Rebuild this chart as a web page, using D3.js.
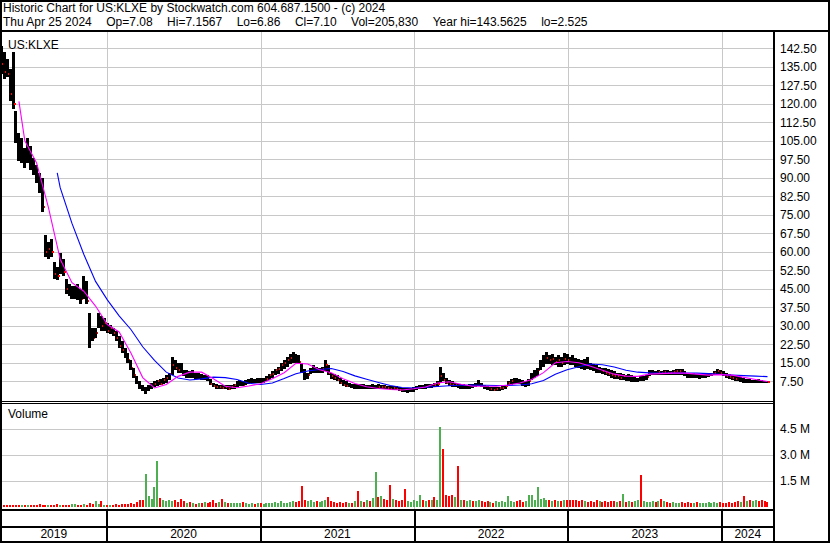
<!DOCTYPE html>
<html>
<head>
<meta charset="utf-8">
<script src="https://cdn.jsdelivr.net/npm/d3@7"></script>
<style>
  body { margin: 0; background: #fff; }
  svg { display: block; font-family: "Liberation Sans", Arial, sans-serif; font-size: 12px; }
</style>
</head>
<body>
<div id="chart"></div>
<script>
"use strict";

// ---- data ----
const titleText = "Historic Chart for US:KLXE by Stockwatch.com 604.687.1500 - (c) 2024";
const quoteParts = ["Thu Apr 25 2024", "Op=7.08", "Hi=7.1567", "Lo=6.86", "Cl=7.10",
                    "Vol=205,830", "Year hi=143.5625", "lo=2.525"];
const symbol = "US:KLXE";
const firstWeek = "2019-04-26";

// weekly high / low / close, 261 weeks
const weekHigh = [
    143.5, 141, 138, 134, 141, 117, 108, 106, 102, 106,
    103, 98, 95, 92, 90, 67, 64, 65, 56, 54,
    59.5, 57, 49, 47, 46, 46, 47, 45, 50, 48,
    35, 29, 29, 35, 34, 33, 31, 30.5, 29, 28,
    26, 24, 21, 19, 16, 13, 9.5, 7.5, 6, 5,
    6, 7, 7.5, 8, 8.5, 9, 10, 11, 17.4, 16,
    15, 15, 12, 12, 11.5, 12, 11, 11, 10.5, 10,
    10, 8.5, 7, 6.5, 6, 6, 6, 5.8, 6, 6.5,
    7.5, 8, 7.5, 8, 8.5, 9, 8.5, 9, 9, 9,
    9.5, 10.5, 11.5, 12.5, 13.5, 15, 16, 17.5, 18.5, 19.5,
    18.5, 18, 15, 12.5, 11, 13, 14, 13.5, 13, 13.5,
    16, 14, 11, 10.5, 10, 9, 8, 7.5, 7, 6.5,
    6.5, 6.5, 6.5, 6.5, 6, 6, 6.5, 6, 6.5, 6,
    6, 5.5, 5.5, 5.5, 5.5, 5, 4.8, 4.8, 4.6, 4.8,
    5, 5.5, 6, 6.2, 6.5, 6.5, 6.5, 6.8, 7.5, 13.4,
    11, 9, 8, 7.5, 7, 6.5, 6.5, 6.5, 6, 6.5,
    6.5, 7, 8.2, 7, 6, 5.5, 5.2, 5, 5, 5.2,
    5.5, 6, 7.5, 8.5, 9, 8.8, 8.5, 8, 7.5, 8.5,
    11, 12, 13, 16, 18, 19.2, 18, 18.5, 17.5, 18,
    17.5, 19, 18.5, 17.5, 18, 17, 16.5, 16, 16.5, 17.5,
    15, 14.5, 14, 13.5, 13, 13, 12.5, 12, 11.5, 11,
    11, 10.5, 10, 10.5, 10, 9.5, 9, 9.5, 9.5, 10,
    12, 12, 11.5, 12, 11.8, 12, 12, 11.8, 12, 12.3,
    12.5, 12.3, 11.5, 11, 10.5, 11, 10.5, 10.5, 10.5, 10.8,
    11, 11, 11.8, 12.3, 12, 11.5, 10.8, 10.5, 10, 9.5,
    9.5, 9.2, 9, 8.5, 8.3, 8.2, 8.2, 8.3, 8.2, 7.8, 7.6
];
const weekLow = [
    132, 130, 131, 121, 118, 104, 97, 96, 94, 96,
    93, 91, 88, 84, 76, 58, 57, 58, 49, 48.5,
    51, 50, 43, 42, 41, 41, 40.5, 39, 41, 39,
    21, 24, 25, 29, 28, 28, 27, 26.5, 26, 24,
    21, 19, 17, 15, 12, 9, 6.5, 4.5, 3.5, 2.525,
    3.5, 4.5, 5, 5.5, 6, 6.5, 7, 8, 10, 12,
    11, 11, 9.5, 9, 9, 9, 8.5, 8.5, 8, 8,
    7.5, 6, 5, 4.5, 4.5, 4.2, 4.2, 4, 4.2, 4.5,
    5, 5.5, 5.5, 5.8, 6.5, 7, 7, 7, 7, 7,
    7.5, 8, 9, 10, 10.5, 11.5, 12.5, 13.5, 14.5, 15,
    15, 14.5, 11, 8, 8.5, 10.5, 11, 11, 11, 11,
    11.5, 10, 8.5, 8, 7.5, 6.5, 5.5, 5, 5, 4.8,
    4.5, 4.5, 4.5, 4.5, 4.5, 4.5, 4.5, 4.5, 4.5, 4.2,
    4.2, 4.2, 4, 4, 3.8, 3.5, 3.2, 3, 2.9, 3,
    3.2, 3.8, 4.2, 4.5, 4.5, 4.8, 4.8, 5, 5.2, 7,
    7.5, 6.5, 5.5, 5, 5, 4.8, 4.5, 4.5, 4.5, 4.5,
    4.8, 5, 5.5, 5, 4.2, 3.8, 3.6, 3.5, 3.5, 3.6,
    3.8, 4.2, 5.5, 6.2, 6.5, 6.5, 6.5, 5.5, 5, 5.5,
    8, 9, 9.5, 12, 13.5, 14.5, 14.5, 14, 14, 13.5,
    13.5, 14, 14.5, 14, 14, 13.5, 13, 12.5, 12, 12.5,
    12, 11.5, 11, 11, 10.5, 10, 9.5, 9, 8.5, 8.5,
    8, 8, 7.5, 7.5, 7.3, 7.3, 7.3, 7.5, 7.8, 8,
    9.5, 10, 10, 10, 10, 10.2, 10.2, 10, 10, 10,
    10.2, 10, 9.5, 9, 8.8, 9, 8.8, 8.5, 8.8, 9,
    9.2, 9.5, 10, 10.2, 10, 9.5, 9, 8.5, 8, 7.8,
    7.5, 7.3, 7, 7, 6.9, 6.9, 7, 7, 7, 6.8, 6.86
];
const weekClose = [
    136, 133, 132, 124, 120, 106, 99, 100, 97, 101,
    95, 93, 90, 86, 78, 60, 61, 60, 51, 50,
    56, 52, 45, 43, 43, 44, 42, 41, 47, 40,
    26, 25, 27, 33, 30, 31, 28, 29, 27, 25,
    22, 20, 18, 16, 13, 10, 7, 5, 4, 4.2,
    5, 6, 6.5, 7.5, 6.5, 8, 9, 10.5, 14, 13,
    12, 11.5, 10, 10.5, 9.5, 10.5, 9, 9.5, 8.5, 9,
    8, 6.5, 5.5, 5, 5, 4.8, 5, 4.5, 5.2, 5.8,
    6.5, 7, 6, 7, 7.5, 8, 7.5, 8, 7.5, 8,
    8.5, 10, 10.5, 12, 12.5, 14, 15, 16, 17, 18,
    16.5, 15.5, 12, 9, 10, 12, 12.5, 12, 12, 12.5,
    14, 11, 9.5, 9, 8, 7, 6, 5.5, 5.8, 5.2,
    5.5, 5, 5.5, 5, 5.2, 4.8, 5.5, 5.8, 5, 5.2,
    5, 4.8, 4.5, 4.8, 4.2, 4, 3.8, 3.4, 3.6, 3.8,
    4.5, 5, 5.5, 5.2, 5.8, 5.5, 6, 5.8, 6.5, 9.5,
    8, 7, 6.5, 5.8, 6, 5.2, 5.5, 5, 5.2, 5.8,
    5.5, 6, 6.5, 5.5, 4.8, 4.2, 4.5, 4, 4.3, 4.6,
    4.8, 5.5, 6.8, 7.5, 7.8, 7.2, 7, 6, 6.5, 7.5,
    9.5, 10.5, 12, 14.5, 16, 17, 16, 16.5, 15.5, 16,
    15, 16.5, 16, 15.5, 15, 14.5, 14, 13.5, 14.5, 14,
    13, 12.5, 12, 12.5, 11.5, 11, 10.5, 10, 9.5, 9.5,
    9, 9.5, 8.5, 9, 8, 8.2, 8.5, 8, 8.8, 9.2,
    11, 11.2, 10.8, 11.3, 10.9, 11.4, 11, 10.8, 11.2, 11.5,
    11.8, 11, 10, 9.8, 9.5, 10, 9.4, 9.6, 9.8, 10,
    10.2, 10.5, 11, 11.5, 10.8, 10.2, 9.8, 9.2, 8.8, 8.5,
    8, 8.2, 7.6, 7.8, 7.5, 7.6, 7.8, 7.5, 7.4, 7.2, 7.1
];
// weekly peak daily volume, millions
const weekVolume = [
    0.1, 0.08, 0.06, 0.08, 0.1, 0.07, 0.06, 0.08, 0.1, 0.07,
    0.08, 0.06, 0.09, 0.12, 0.1, 0.08, 0.07, 0.1, 0.08, 0.12,
    0.1, 0.09, 0.08, 0.1, 0.15, 0.12, 0.1, 0.08, 0.12, 0.1,
    0.18, 0.15, 0.3, 0.12, 0.32, 0.1, 0.08, 0.1, 0.09, 0.12,
    0.1, 0.12, 0.15, 0.12, 0.2, 0.15, 0.25, 0.35, 0.4, 1.9,
    0.6, 0.45, 1.15, 2.6, 0.5, 0.35, 0.3, 0.4, 0.3, 0.35,
    0.25, 0.45, 0.3, 0.2, 0.25, 0.2, 0.15, 0.18, 0.2, 0.25,
    0.2, 0.25, 0.4, 0.2, 0.25, 0.45, 0.25, 0.2, 0.18, 0.2,
    0.22, 0.18, 0.25, 0.2, 0.15, 0.2, 0.15, 0.18, 0.2, 0.15,
    0.2, 0.18, 0.2, 0.25, 0.2, 0.3, 0.22, 0.2, 0.25, 0.3,
    0.25, 0.3, 1.2, 0.35, 0.3, 0.4, 0.25, 0.3, 0.25, 0.3,
    0.35, 0.55, 0.3, 0.25, 0.2, 0.25, 0.2, 0.25, 0.2, 0.22,
    0.3, 0.9, 0.3, 0.25, 0.35, 0.3, 0.5, 2.0, 0.55, 0.6,
    0.45, 0.4, 1.25, 0.45, 0.35, 0.3, 0.4, 1.0, 0.3, 0.25,
    0.35, 0.3, 0.65, 0.4, 0.3, 0.35, 0.4, 0.55, 0.4, 4.6,
    3.3, 0.65, 0.6, 0.65, 0.55, 2.35, 0.4, 0.35, 0.3, 0.35,
    0.3, 0.3, 0.4, 0.3, 0.25, 0.3, 0.25, 0.2, 0.3, 0.25,
    0.3, 0.25, 0.6, 0.3, 0.25, 0.3, 0.35, 0.25, 0.3, 0.65,
    0.65, 0.4, 1.1, 0.45, 0.5, 0.4, 0.35, 0.3, 0.35, 0.3,
    0.3, 0.35, 0.4, 0.35, 0.4, 0.35, 0.3, 0.4, 0.3, 0.25,
    0.3, 0.25, 0.4, 0.3, 0.25, 0.3, 0.25, 0.3, 0.3, 0.25,
    0.3, 0.7, 0.25, 0.3, 0.25, 0.3, 0.35, 1.8, 0.3, 0.25,
    0.25, 0.3, 0.25, 0.3, 0.45, 0.3, 0.25, 0.2, 0.25, 0.2,
    0.2, 0.25, 0.2, 0.25, 0.2, 0.18, 0.25, 0.2, 0.22, 0.2,
    0.25, 0.2, 0.25, 0.2, 0.25, 0.22, 0.2, 0.25, 0.2, 0.25,
    0.3, 0.25, 0.6, 0.3, 0.35, 0.3, 0.4, 0.3, 0.35, 0.3, 0.25
];

// moving averages, sampled every 4 weeks (week index listed first)
const fastWeeks = [6].concat(d3.range(8, 261, 4));
const fastMA = [
    121, 105, 96, 78, 57, 47.5, 44, 38, 30.5, 27.5,
    19, 9, 4.8, 6.2, 9.5, 11.2, 11.2, 8.5, 5.5, 4.9,
    5.6, 6.5, 8.5, 11, 14.8, 14.5, 12.2, 11, 8.5, 6.6,
    5.3, 4.6, 4.2, 4, 4.5, 5.2, 6.8, 7.3, 6.3, 5.5,
    5.5, 5.5, 6, 6.8, 8.2, 11, 15, 15.5, 15, 13.6,
    12, 10.4, 9.6, 9.5, 10.4, 10.6, 10.8, 10.8, 10.4, 10,
    10.2, 10, 9.1, 8.2, 7.4
];
const slowWeeks = [19].concat(d3.range(20, 261, 4));
const slowMA = [
    92, 86, 71.5, 59, 48, 40.5, 34, 28.5, 21.5, 16,
    11.2, 8.8, 8, 8.5, 9.2, 9, 8.2, 6.7, 6.2, 6.8,
    8.6, 10.6, 11.7, 12.3, 12.7, 11.5, 9.7, 8.3, 7, 5.8,
    5, 4.8, 5.1, 5.4, 5.7, 5.9, 6, 5.9, 5.8, 5.8,
    6, 6.5, 7.8, 10.4, 12.2, 13.4, 14.5, 14.2, 13.3, 12,
    11.2, 10.9, 10.8, 10.8, 10.8, 10.8, 10.6, 10.3, 10, 9.8,
    9.6, 9.4
];

const priceTicks = d3.range(1, 20).map(k => k * 7.5);
const volumeTicks = [1.5, 3.0, 4.5];
const years = [2019, 2020, 2021, 2022, 2023, 2024];

// ---- layout ----
const W = 830, H = 543;
const box = {
    left       : 1,
    right      : 774,
    top        : 31,
    priceBottom: 401,
    volTop     : 403,
    volBottom  : 510,
    axisMid    : 527,
    bottom     : 541
};

const week0 = d3.timeParse("%Y-%m-%d")(firstWeek);
const weekDate = i => d3.timeDay.offset(week0, 7 * i);

const x = d3.scaleTime()
            .domain([new Date(2020, 0, 1), new Date(2024, 0, 1)])
            .range([106.5, 721.6]);
const yPrice = d3.scaleLinear()
                 .domain([0, 150])
                 .range([399.8, 29.8]);
const yVol = d3.scaleLinear()
               .domain([0, 6])
               .range([506.5, 402.5]);

const svg = d3.select("#chart").append("svg")
              .attr("width", W)
              .attr("height", H);
svg.append("rect").attr("width", W).attr("height", H).attr("fill", "#fff");

svg.append("defs")
   .append("clipPath").attr("id", "clipPrice")
   .append("rect")
   .attr("x", box.left + 1).attr("y", box.top + 1)
   .attr("width", box.right - box.left - 2)
   .attr("height", box.priceBottom - box.top - 2);

const yearStarts = years.slice(1).map(y => new Date(y, 0, 1));

// ---- grid ----
const grid = svg.append("g")
                .attr("stroke", "#c8c8c8")
                .attr("stroke-width", 1)
                .attr("shape-rendering", "crispEdges");
const hGrid = (cls, ticks, scale) =>
    grid.selectAll("line." + cls)
        .data(ticks)
        .join("line")
        .attr("class", cls)
        .attr("x1", box.left).attr("x2", box.right)
        .attr("y1", d => Math.round(scale(d)) + 0.5)
        .attr("y2", d => Math.round(scale(d)) + 0.5);
const vGrid = (cls, y1, y2) =>
    grid.selectAll("line." + cls)
        .data(yearStarts)
        .join("line")
        .attr("class", cls)
        .attr("x1", d => Math.round(x(d)) + 0.5)
        .attr("x2", d => Math.round(x(d)) + 0.5)
        .attr("y1", y1).attr("y2", y2);
hGrid("hp", priceTicks, yPrice);
hGrid("hv", volumeTicks, yVol);
vGrid("vp", box.top, box.priceBottom);
vGrid("vv", box.volTop, box.volBottom);

// ---- price bars ----
const weeks = d3.range(weekHigh.length);
const price = svg.append("g")
                 .attr("clip-path", "url(#clipPrice)")
                 .attr("shape-rendering", "crispEdges");
weeks.forEach(i => {
    const cx = x(weekDate(i));
    price.append("rect")
         .attr("x", cx - 1.5)
         .attr("y", yPrice(weekHigh[i]))
         .attr("width", 3)
         .attr("height", Math.max(1, yPrice(weekLow[i]) - yPrice(weekHigh[i])))
         .attr("fill", "#000");
    price.append("rect")
         .attr("x", cx + 1)
         .attr("y", yPrice(weekClose[i]) - 1)
         .attr("width", 1.5)
         .attr("height", 2)
         .attr("fill", "#ff0000");
});

// ---- moving averages ----
const maLine = d3.line()
                 .x(d => x(weekDate(d[0])))
                 .y(d => yPrice(d[1]));
price.append("path")
     .datum(d3.zip(slowWeeks, slowMA))
     .attr("d", maLine)
     .attr("fill", "none")
     .attr("stroke", "#0000ff")
     .attr("stroke-width", 1.1)
     .attr("shape-rendering", "auto");
price.append("path")
     .datum(d3.zip(fastWeeks, fastMA))
     .attr("d", maLine)
     .attr("fill", "none")
     .attr("stroke", "#ff00ff")
     .attr("stroke-width", 1.1)
     .attr("shape-rendering", "auto");

// ---- volume ----
svg.append("g")
   .attr("shape-rendering", "crispEdges")
   .selectAll("rect")
   .data(weeks)
   .join("rect")
   .attr("x", i => x(weekDate(i)) - 1)
   .attr("y", i => yVol(weekVolume[i]))
   .attr("width", 2)
   .attr("height", i => Math.max(1, yVol(0) - yVol(weekVolume[i])))
   .attr("fill", i => (i > 0 && weekClose[i] >= weekClose[i - 1]) ? "#4caf50" : "#ff0000");

// ---- frame ----
const frame = svg.append("g")
                 .attr("stroke", "#000")
                 .attr("shape-rendering", "crispEdges");
frame.append("rect")
     .attr("x", 1).attr("y", 1)
     .attr("width", W - 2).attr("height", H - 2)
     .attr("fill", "none")
     .attr("stroke-width", 2);
const hline = (y, x1, x2, w) => frame.append("line")
                                     .attr("x1", x1).attr("x2", x2)
                                     .attr("y1", y).attr("y2", y)
                                     .attr("stroke-width", w);
hline(box.top, 0, W, 2);
hline(box.priceBottom + 0.5, 0, box.right, 1);
hline(box.volTop + 0.5, 0, box.right, 1);
hline(box.volBottom, 0, box.right, 2);
hline(box.axisMid, 0, box.right, 2);
frame.append("line")
     .attr("x1", box.right).attr("x2", box.right)
     .attr("y1", box.top).attr("y2", H)
     .attr("stroke-width", 2);

// year separators in the date band
const dateAxis = svg.append("g")
                    .attr("transform", `translate(0, ${box.volBottom})`)
                    .call(d3.axisBottom(x)
                            .tickValues(yearStarts)
                            .tickSize(box.bottom - box.volBottom)
                            .tickFormat(""));
dateAxis.select(".domain").remove();
dateAxis.selectAll(".tick line")
        .attr("stroke", "#000")
        .attr("stroke-width", 2)
        .attr("shape-rendering", "crispEdges");

svg.append("g")
   .selectAll("text")
   .data(years)
   .join("text")
   .attr("x", yr => {
       const a = Math.max(box.left, x(new Date(yr, 0, 1)));
       const b = Math.min(box.right, x(new Date(yr + 1, 0, 1)));
       return (a + b) / 2;
   })
   .attr("y", 538)
   .attr("text-anchor", "middle")
   .text(yr => yr);

// ---- right axis labels ----
const priceAxis = svg.append("g")
                     .attr("transform", `translate(${box.right}, 0)`)
                     .call(d3.axisRight(yPrice)
                             .tickValues(priceTicks)
                             .tickSize(0)
                             .tickPadding(6)
                             .tickFormat(d3.format(".2f")));
const volAxis = svg.append("g")
                   .attr("transform", `translate(${box.right}, 0)`)
                   .call(d3.axisRight(yVol)
                           .tickValues(volumeTicks)
                           .tickSize(0)
                           .tickPadding(6)
                           .tickFormat(d => d3.format(".1f")(d) + " M"));
[priceAxis, volAxis].forEach(a => {
    a.select(".domain").remove();
    a.attr("font-family", null).attr("font-size", null);
    a.selectAll("text").attr("fill", "#000");
});

// ---- texts ----
svg.append("text").attr("x", 3).attr("y", 12).text(titleText);
svg.append("text")
   .attr("x", 3).attr("y", 26)
   .selectAll("tspan")
   .data(quoteParts)
   .join("tspan")
   .attr("dx", (d, i) => i ? 14.5 : 0)
   .text(d => d);
svg.append("text").attr("x", 8).attr("y", 49).text(symbol);
svg.append("text").attr("x", 8).attr("y", 418).text("Volume");
</script>
</body>
</html>
